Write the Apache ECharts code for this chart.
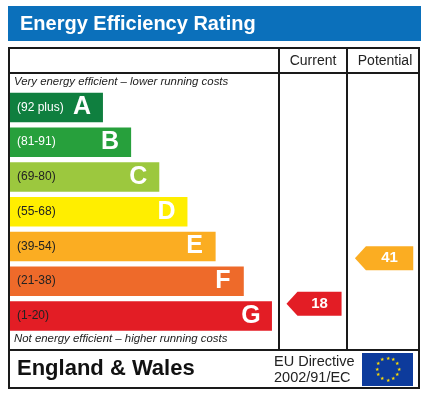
<!DOCTYPE html>
<html>
<head>
<meta charset="utf-8">
<script src="https://cdn.jsdelivr.net/npm/echarts@6/dist/echarts.min.js"></script>
<style>
html,body{margin:0;padding:0;background:#fff;}
#chart{width:428px;height:401px;}
</style>
</head>
<body>
<div id="chart"></div>
<script>
// ---- data ----
const bands = ['A', 'B', 'C', 'D', 'E', 'F', 'G'];
const bandRanges = ['(92 plus)', '(81-91)', '(69-80)', '(55-68)', '(39-54)', '(21-38)', '(1-20)'];
const bandLow = [92, 81, 69, 55, 39, 21, 1];
const bandHigh = [100, 91, 80, 68, 54, 38, 20];
const bandLength = [33, 43, 53, 63, 73, 83, 93];
const bandColors = ['#0f7f3f', '#27a03c', '#9cc83e', '#ffee00', '#fbad22', '#ee6a2a', '#e31d25'];
const rangeTextColors = ['#ffffff', '#ffffff', '#222222', '#222222', '#222222', '#222222', '#222222'];
const columnTitles = ['Current', 'Potential'];
const currentScores = [18];
const potentialScores = [41];

const FONT = '"Liberation Sans", Arial, Helvetica, sans-serif';

function bandOf(s) {
  for (let i = 0; i < bands.length; i++) if (s >= bandLow[i] && s <= bandHigh[i]) return i;
  return bands.length - 1;
}
function scorePos(s) {
  const i = bandOf(s);
  return (bands.length - 1 - i) + (s - bandLow[i] + 0.5) / (bandHigh[i] - bandLow[i] + 1);
}

function arrowRender(params, api) {
  const score = api.value(2);
  const y = api.coord([0, api.value(1)])[1];
  const x0 = api.coord([0.11, 0])[0];
  const x1 = api.coord([0.92, 0])[0];
  const h = 24, notch = 11;
  const color = bandColors[bandOf(score)];
  return {
    type: 'group',
    children: [
      { type: 'polygon', shape: { points: [[x0, y], [x0 + notch, y - h / 2], [x1, y - h / 2], [x1, y + h / 2], [x0 + notch, y + h / 2]] }, style: { fill: color } },
      { type: 'text', style: { text: String(score), x: (x0 + notch + x1) / 2, y: y, align: 'center', verticalAlign: 'middle', fill: '#fff', font: 'bold 15px ' + FONT } }
    ]
  };
}

const chart = echarts.init(document.getElementById('chart'), null, { renderer: 'canvas' });

const stars = [];
for (let k = 0; k < 12; k++) {
  const a = k * Math.PI / 6;
  stars.push({ type: 'text', z: 20, style: { text: '★', x: 387.5 + 11 * Math.cos(a), y: 369.5 + 11 * Math.sin(a), align: 'center', verticalAlign: 'middle', fill: '#ffdd00', font: '5px ' + FONT } });
}

const lineStyle = { stroke: '#1a1a1a', lineWidth: 2 };

chart.setOption({
  animation: false,
  backgroundColor: '#ffffff',
  grid: [
    { left: 10, top: 90, width: 269, height: 243.25 },
    { left: 279, top: 91, width: 68, height: 243.25 },
    { left: 347, top: 90, width: 72, height: 243.25 }
  ],
  xAxis: [
    { gridIndex: 0, type: 'value', min: 0, max: 95.5, show: false },
    { gridIndex: 1, type: 'value', min: 0, max: 1, show: false },
    { gridIndex: 2, type: 'value', min: 0, max: 1, show: false }
  ],
  yAxis: [
    { gridIndex: 0, type: 'category', data: bands, inverse: true, show: false },
    { gridIndex: 1, type: 'value', min: 0, max: 7, show: false },
    { gridIndex: 2, type: 'value', min: 0, max: 7, show: false }
  ],
  series: [
    {
      type: 'bar', xAxisIndex: 0, yAxisIndex: 0, barWidth: 29.5, barGap: '-100%',
      data: bandLength.map((v, i) => ({
        value: v,
        itemStyle: { color: bandColors[i] },
        label: { color: rangeTextColors[i] }
      })),
      label: {
        show: true, position: 'insideLeft', distance: 7,
        formatter: p => bandRanges[p.dataIndex],
        fontFamily: FONT, fontSize: 12
      }
    },
    {
      type: 'bar', xAxisIndex: 0, yAxisIndex: 0, barWidth: 29.5, barGap: '-100%',
      data: bandLength,
      itemStyle: { color: 'rgba(0,0,0,0)' },
      label: {
        show: true, position: 'insideRight', distance: 21, align: 'center',
        formatter: p => bands[p.dataIndex],
        fontFamily: FONT, fontSize: 25, fontWeight: 'bold', color: '#ffffff'
      },
      z: 3
    },
    {
      type: 'custom', xAxisIndex: 1, yAxisIndex: 1,
      data: currentScores.map(s => [0, scorePos(s), s]),
      renderItem: arrowRender
    },
    {
      type: 'custom', xAxisIndex: 2, yAxisIndex: 2,
      data: potentialScores.map(s => [0, scorePos(s), s]),
      renderItem: arrowRender
    }
  ],
  graphic: [
    { type: 'rect', shape: { x: 8, y: 6, width: 413, height: 35 }, style: { fill: '#0b70bb' } },
    { type: 'text', style: { text: 'Energy Efficiency Rating', x: 20, y: 24, verticalAlign: 'middle', fill: '#ffffff', font: 'bold 20px ' + FONT } },
    { type: 'rect', z: 10, shape: { x: 9, y: 48, width: 410, height: 340 }, style: { fill: 'none', stroke: '#1a1a1a', lineWidth: 2 } },
    { type: 'line', z: 10, shape: { x1: 9, y1: 73, x2: 419, y2: 73 }, style: lineStyle },
    { type: 'line', z: 10, shape: { x1: 9, y1: 350, x2: 419, y2: 350 }, style: lineStyle },
    { type: 'line', z: 10, shape: { x1: 279, y1: 48, x2: 279, y2: 350 }, style: lineStyle },
    { type: 'line', z: 10, shape: { x1: 347, y1: 48, x2: 347, y2: 350 }, style: lineStyle },
    { type: 'text', style: { text: columnTitles[0], x: 313, y: 61, align: 'center', verticalAlign: 'middle', fill: '#222', font: '14px ' + FONT } },
    { type: 'text', style: { text: columnTitles[1], x: 385, y: 61, align: 'center', verticalAlign: 'middle', fill: '#222', font: '14px ' + FONT } },
    { type: 'text', style: { text: 'Very energy efficient \u2013 lower running costs', x: 14, y: 82, verticalAlign: 'middle', fill: '#222', font: 'italic 11.4px ' + FONT } },
    { type: 'text', style: { text: 'Not energy efficient \u2013 higher running costs', x: 14, y: 339, verticalAlign: 'middle', fill: '#222', font: 'italic 11.4px ' + FONT } },
    { type: 'text', style: { text: 'England & Wales', x: 17, y: 369, verticalAlign: 'middle', fill: '#111', font: 'bold 22px ' + FONT } },
    { type: 'text', style: { text: 'EU Directive', x: 274, y: 362, verticalAlign: 'middle', fill: '#222', font: '14.5px ' + FONT } },
    { type: 'text', style: { text: '2002/91/EC', x: 274, y: 378, verticalAlign: 'middle', fill: '#222', font: '14.5px ' + FONT } },
    { type: 'rect', z: 19, shape: { x: 362, y: 353, width: 51, height: 33 }, style: { fill: '#0d3b9c' } }
  ].concat(stars)
});
</script>
</body>
</html>
